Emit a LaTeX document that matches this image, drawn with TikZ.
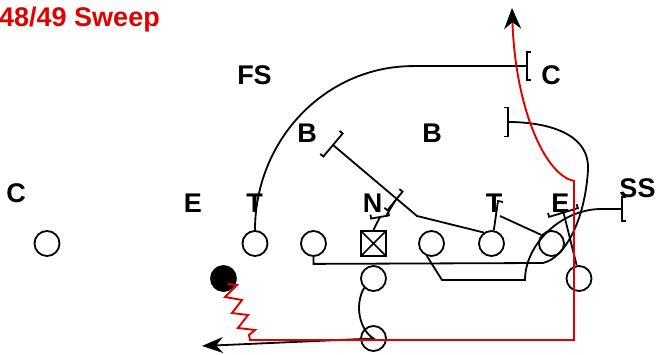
\documentclass[tikz,border=0pt]{standalone}
\usepackage{fontspec}
\setmainfont{Liberation Sans}
\usetikzlibrary{arrows.meta}
\pgfdeclarelayer{edgelayer}
\pgfdeclarelayer{nodelayer}
\pgfsetlayers{nodelayer,edgelayer,main}
\definecolor{playred}{RGB}{225,0,0}
\tikzstyle{plr}=[shape=circle,draw=black,line width=1.8pt,minimum size=25pt,inner sep=0pt]
\tikzstyle{ball}=[plr,fill=black]
\tikzstyle{snap}=[shape=rectangle,draw=black,line width=2.2pt,minimum size=25pt,inner sep=0pt,
	path picture={\draw[line width=1.6pt] (path picture bounding box.south west) -- (path picture bounding box.north east)
	(path picture bounding box.north west) -- (path picture bounding box.south east);}]
\tikzstyle{lbl}=[inner sep=0mm,anchor=base,font=\fontsize{27}{30}\selectfont\bfseries]
\tikzstyle{rte}=[line width=1.8pt]
\tikzstyle{run}=[line width=1.9pt,draw=playred]
\tikzset{
	pics/blk/.style={code={\draw[rte] (4,-#1) -- (0,-#1) -- (0,#1) -- (4,#1);}}
}

\begin{document}
\begin{tikzpicture}[x=1pt,y=-1pt]
	\useasboundingbox (0,0) rectangle (657,355);
	\begin{pgfonlayer}{nodelayer}
		\node [style=plr] (se) at (47, 243.5) {};
		\node [style=plr] (lt) at (255, 243.5) {};
		\node [style=plr] (lg) at (313.5, 243.5) {};
		\node [style=snap] (ctr) at (373.5, 243.5) {};
		\node [style=plr] (rg) at (431.5, 243.5) {};
		\node [style=plr] (rt) at (491.5, 243.5) {};
		\node [style=plr] (te) at (551.5, 243.5) {};
		\node [style=plr] (wb) at (579, 278.5) {};
		\node [style=ball] (hb) at (223.5, 278.5) {};
		\node [style=plr] (qb) at (373.5, 278.5) {};
		\node [style=plr] (fb) at (373.5, 338.5) {};
		\node [style=lbl, anchor=base west, text=playred] (title) at (-1, 27) {48/49 Sweep};
		\node [style=lbl] (fs) at (254.5, 85) {FS};
		\node [style=lbl] (c1) at (551, 85) {C};
		\node [style=lbl] (b1) at (307, 143) {B};
		\node [style=lbl] (b2) at (432, 143) {B};
		\node [style=lbl] (c2) at (16, 203) {C};
		\node [style=lbl] (ss) at (637.5, 198) {SS};
		\node [style=lbl] (e1) at (193, 213) {E};
		\node [style=lbl] (t1) at (254.5, 213) {T};
		\node [style=lbl] (n) at (372.5, 213) {N};
		\node [style=lbl] (t2) at (494, 213) {T};
		\node [style=lbl] (e2) at (560.5, 213) {E};
		\coordinate (bfs) at (527, 66);
		\coordinate (bkr) at (508, 122);
		\coordinate (bkl) at (333, 145);
		\coordinate (bss) at (622, 209);
		\coordinate (bn1) at (380, 217);
		\coordinate (bn2) at (395, 201);
		\coordinate (bke) at (563.5, 212.5);
		\coordinate (bt) at (498, 201);
		\coordinate (pitch) at (202, 346);
		\coordinate (go) at (512, 8);
	\end{pgfonlayer}
	\begin{pgfonlayer}{edgelayer}
		% blocks
		\draw [style=rte] (lt.north) arc [start angle=180, end angle=270, x radius=158, y radius=164] -- (bfs);
		\pic at (bfs) {blk=14};
		\draw [style=rte] (lg.south) -- ++(0,7) -- (543, 263) .. controls (565, 258) and (585, 220) .. (588, 170)
			.. controls (590, 130) and (540, 122) .. (bkr);
		\pic [rotate=180] at (bkr) {blk=14.5};
		\draw [style=rte] (rg.250) -- (442, 280) -- (525, 280) .. controls (525, 245) and (560, 210) .. (600, 209) -- (bss);
		\pic at (bss) {blk=12};
		\draw [style=rte] (rt.125) -- (417, 216) -- (bkl);
		\pic [rotate=140] at (bkl) {blk=15};
		\draw [style=rte] (rt.80) -- (bt) -- ++(5, 1);
		\draw [style=rte] (te.140) -- (500, 216);
		\draw [style=rte] (ctr.north) -- (bn1);
		\pic [rotate=100] at (bn1) {blk=9};
		\draw [style=rte] (386, 216) -- (bn2);
		\pic [rotate=141] at (bn2) {blk=12};
		\draw [style=rte] (wb.100) -- (bke);
		\pic [rotate=107] at (bke) {blk=15};
		% backs
		\draw [style=rte, -{Stealth[length=21pt, width=16pt]}] (qb.225) .. controls (354, 306) and (360, 330) .. (fb.center) -- (pitch);
		\draw [style=run, -{Stealth[length=21pt, width=17pt, color=black]}] (hb.center) ++(4.5, 5.5) -- (237, 285) -- (225, 297)
			-- (242, 300) -- (232, 313) -- (248, 315) -- (238, 328) -- (255, 330) -- (249, 335) -- (250, 340)
			-- (574, 340) -- (574, 181) -- (568, 179) .. controls (540, 165) and (515, 100) .. (go);
	\end{pgfonlayer}
\end{tikzpicture}
\end{document}
